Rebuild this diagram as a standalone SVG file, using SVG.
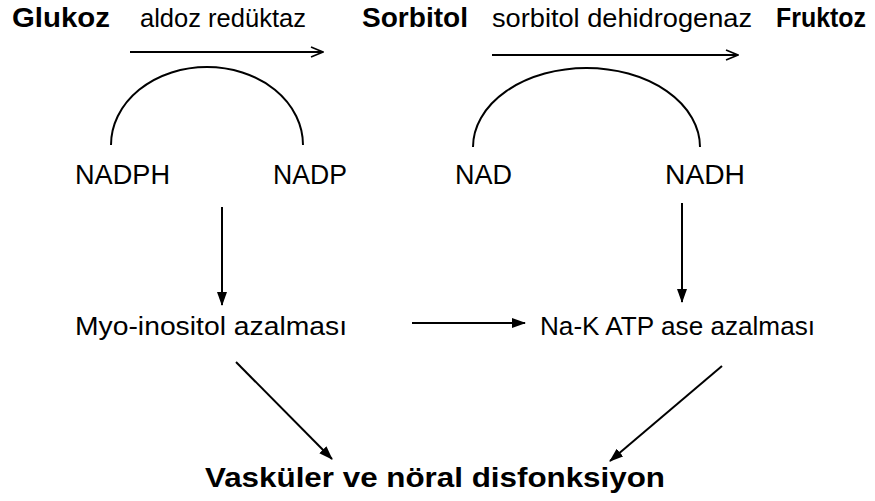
<svg xmlns="http://www.w3.org/2000/svg" width="875" height="501" viewBox="0 0 875 501">
<defs>
<marker id="open" viewBox="0 0 14 12" refX="13" refY="6" markerWidth="14" markerHeight="12" markerUnits="userSpaceOnUse" orient="auto">
<path d="M1,1 L13,6 L1,11" fill="none" stroke="#000" stroke-width="1.6"/>
</marker>
<marker id="fill" viewBox="0 0 14 12" refX="13" refY="6" markerWidth="14" markerHeight="12" markerUnits="userSpaceOnUse" orient="auto">
<path d="M0,1 L14,6 L0,11 Z" fill="#000"/>
</marker>
</defs>
<style>
text{font-family:"Liberation Sans",Arial,sans-serif;fill:#000}
.b{font-weight:bold;font-size:27px}
.e{font-size:25px}
.n{font-size:27px}
.m{font-size:26px}
.c{fill:none;stroke:#000;stroke-width:2}
</style>
<rect width="875" height="501" fill="#fff"/>
<g id="glukoz"><text class="b" x="12" y="27" textLength="98" lengthAdjust="spacingAndGlyphs">Glukoz</text></g>
<g id="aldoz"><text class="e" x="140" y="27" textLength="166" lengthAdjust="spacingAndGlyphs">aldoz redüktaz</text></g>
<g id="sorbitol"><text class="b" x="362" y="27" textLength="106" lengthAdjust="spacingAndGlyphs">Sorbitol</text></g>
<g id="sdh"><text class="e" x="492" y="27" textLength="260" lengthAdjust="spacingAndGlyphs">sorbitol dehidrogenaz</text></g>
<g id="fruktoz"><text class="b" x="776" y="27" textLength="90" lengthAdjust="spacingAndGlyphs">Fruktoz</text></g>
<g id="nadph"><text class="n" x="75" y="184" textLength="95" lengthAdjust="spacingAndGlyphs">NADPH</text></g>
<g id="nadp"><text class="n" x="273" y="184" textLength="74" lengthAdjust="spacingAndGlyphs">NADP</text></g>
<g id="nad"><text class="n" x="455" y="184" textLength="57" lengthAdjust="spacingAndGlyphs">NAD</text></g>
<g id="nadh"><text class="n" x="665" y="184" textLength="80" lengthAdjust="spacingAndGlyphs">NADH</text></g>
<g id="myo"><text class="m" x="75" y="335" textLength="272" lengthAdjust="spacingAndGlyphs">Myo-inositol azalması</text></g>
<g id="nak"><text class="m" x="540" y="335" textLength="275" lengthAdjust="spacingAndGlyphs">Na-K ATP ase azalması</text></g>
<g id="vask"><text class="b" x="205" y="487" style="font-size:28px" textLength="460" lengthAdjust="spacingAndGlyphs">Vasküler ve nöral disfonksiyon</text></g>
<g id="connectors">
<line class="c" x1="130" y1="52" x2="323" y2="52" marker-end="url(#open)"/>
<line class="c" x1="492" y1="55" x2="738" y2="55" marker-end="url(#open)"/>
<path class="c" d="M111,145 A96,78 0 0 1 303,145"/>
<path class="c" d="M473,147 A113.5,79 0 0 1 700,147"/>
<line class="c" x1="222" y1="207" x2="222" y2="305" marker-end="url(#fill)"/>
<line class="c" x1="682" y1="203" x2="682" y2="302" marker-end="url(#fill)"/>
<line class="c" x1="412" y1="323" x2="525" y2="323" marker-end="url(#fill)"/>
<line class="c" x1="236" y1="362" x2="332" y2="459" marker-end="url(#fill)"/>
<line class="c" x1="722" y1="366" x2="610" y2="461" marker-end="url(#fill)"/>
</g>
</svg>
